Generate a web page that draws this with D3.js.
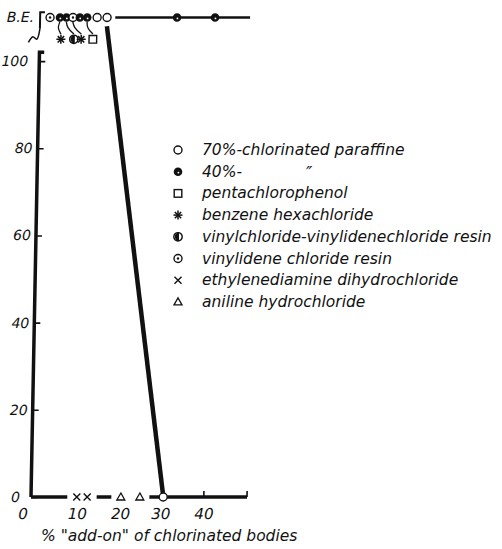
<!DOCTYPE html>
<html>
<head>
<meta charset="utf-8">
<script src="https://cdn.jsdelivr.net/npm/d3@7"></script>
<style>
  body { margin: 0; background: #fff; }
  text { font-family: "DejaVu Sans", sans-serif; font-style: italic; fill: #111; }
</style>
</head>
<body>
<svg id="chart" width="502" height="549"></svg>
<script>
// values; x = % add-on, y = B.E. (110 is the "B.E." row)
const BE = 110;
const xTickLabels = [0, 10, 20, 30, 40];
const xTickMarks = [40, 50];
const yTicks = [0, 20, 40, 60, 80, 100];

const legendNames = [
  '70%-chlorinated paraffine', '40%-', 'pentachlorophenol', 'benzene hexachloride',
  'vinylchloride-vinylidenechloride resin', 'vinylidene chloride resin',
  'ethylenediamine dihydrochloride', 'aniline hydrochloride'
];
const legendMarks = ['open', 'speck', 'square', 'star', 'half', 'dotted', 'cross', 'tri'];

// points sitting on the B.E. row, left to right
const beRowX = [2.3, 4.6, 6.1, 7.6, 9.2, 10.9, 13.2, 15.5, 31.7, 40.5];
const beRowMark = ['dotted', 'speck', 'speck', 'dotted', 'speck', 'speck', 'open', 'open', 'speck', 'speck'];
// symbols hung under the crowded B.E. points
const hangX = [4.9, 7.9, 9.6, 12.3];
const hangFrom = [4.6, 6.1, 7.6, 10.9];
const hangMark = ['star', 'half', 'star', 'square'];
const hangY = 105;

// 40%-paraffin stays at B.E. along this span
const paraffin40Span = [17.4, 48.6];
// 70%-paraffin falls from B.E. to zero
const paraffin70Line = [[15.5, 108], [30.5, 0.9]];

// points on the zero line
const zeroX = [10.6, 13.0, 20.8, 25.2, 30.6];
const zeroMark = ['cross', 'cross', 'tri', 'tri', 'open'];

const svg = d3.select('#chart');
const x = d3.scaleLinear().domain([0, 50]).range([31, 247]);
const y = d3.scaleLinear().domain([0, BE]).range([497, 17.5]);

// the scan leans a little, so the plot is sheared about the baseline
const plot = svg.append('g')
  .attr('transform', `translate(0,${y(0)}) skewX(-1.09) translate(0,${-y(0)})`);

function mark(g, kind, cx, cy) {
  const s = g.append('g').attr('transform', `translate(${cx},${cy})`);
  const ink = '#111';
  if (kind === 'open') {
    s.append('circle').attr('r', 4).attr('fill', '#fff').attr('stroke', ink).attr('stroke-width', 1.4);
  } else if (kind === 'speck') {
    s.append('circle').attr('r', 4.3).attr('fill', ink);
    s.append('circle').attr('r', 0.9).attr('cx', 0.4).attr('cy', 0.9).attr('fill', '#fff');
  } else if (kind === 'square') {
    s.append('rect').attr('x', -3.8).attr('y', -3.8).attr('width', 7.6).attr('height', 7.6)
      .attr('fill', '#fff').attr('stroke', ink).attr('stroke-width', 1.4);
  } else if (kind === 'star') {
    [0, 45, 90, 135].forEach(a => {
      const r = a * Math.PI / 180;
      s.append('line').attr('x1', -4.5 * Math.cos(r)).attr('y1', -4.5 * Math.sin(r))
        .attr('x2', 4.5 * Math.cos(r)).attr('y2', 4.5 * Math.sin(r))
        .attr('stroke', ink).attr('stroke-width', 1.5);
    });
  } else if (kind === 'half') {
    s.append('circle').attr('r', 4.2).attr('fill', '#fff').attr('stroke', ink).attr('stroke-width', 1.4);
    s.append('path').attr('d', 'M1,-4.2A4.2,4.2 0 1,0 1,4.2Z').attr('fill', ink);
  } else if (kind === 'dotted') {
    s.append('circle').attr('r', 4).attr('fill', '#fff').attr('stroke', ink).attr('stroke-width', 1.4);
    s.append('circle').attr('r', 1.2).attr('fill', ink);
  } else if (kind === 'cross') {
    s.append('path').attr('d', 'M-3.5,-3.5L3.5,3.5M-3.5,3.5L3.5,-3.5')
      .attr('stroke', ink).attr('stroke-width', 1.4).attr('fill', 'none');
  } else if (kind === 'tri') {
    s.append('path').attr('d', 'M0,-4L4,3L-4,3Z')
      .attr('stroke', ink).attr('stroke-width', 1.3).attr('fill', '#fff');
  }
}

const line = d3.line().x(d => x(d[0])).y(d => y(d[1]));

// y axis with the "F" top and the break up to the B.E. row
plot.append('path').attr('d', line([[0, 0], [0, 102], [1.1, 102]]))
  .attr('fill', 'none').attr('stroke', '#111').attr('stroke-width', 3.5);
const yAxis = plot.append('g').attr('transform', `translate(${x(0)},0)`)
  .call(d3.axisLeft(y).tickValues(yTicks).tickSizeInner(-6).tickSizeOuter(0).tickPadding(5));
yAxis.select('.domain').remove();
yAxis.selectAll('line').attr('stroke', '#111').attr('stroke-width', 1.6);
yAxis.selectAll('text').attr('font-size', 14).attr('font-family', null)
  .attr('dx', d => (d === 0 || d === 100) ? -6 : 0);

plot.append('path').attr('d', line([[1.1, 111.2], [0, 111.2], [0, 107.4]]))
  .attr('fill', 'none').attr('stroke', '#111').attr('stroke-width', 2);
plot.append('path')
  .attr('d', d3.line().curve(d3.curveCatmullRom).x(d => x(d[0])).y(d => y(d[1]))(
    [[-2.6, 104.3], [-1.6, 105.6], [-0.7, 105.0], [0, 107.4]]))
  .attr('fill', 'none').attr('stroke', '#111').attr('stroke-width', 1.5);
plot.append('text').attr('x', x(0) - 6).attr('y', y(BE) + 5)
  .attr('text-anchor', 'end').attr('font-size', 14).text('B.E.');

// zero line, broken around the markers that sit on it
const gaps = zeroX.map((v, i) => {
  const h = zeroMark[i] === 'open' ? 0.9 : 2.2;
  return [v - h, v + h];
}).sort((a, b) => a[0] - b[0]);
let start = 0;
const segs = [];
gaps.forEach(g => {
  if (g[0] > start) segs.push([start, g[0]]);
  start = Math.max(start, g[1]);
});
segs.push([start, 50]);
segs.forEach(s => {
  plot.append('path').attr('d', line([[s[0], 0], [s[1], 0]]))
    .attr('stroke', '#111').attr('stroke-width', 3.5);
});

const xAxis = plot.append('g').attr('transform', `translate(0,${y(0)})`)
  .call(d3.axisBottom(x).tickValues(xTickLabels).tickSize(0).tickPadding(11));
xAxis.select('.domain').remove();
xAxis.selectAll('text').attr('font-size', 15).attr('font-family', null)
  .attr('dx', d => d === 0 ? -8 : (d === 10 || d === 20) ? 3 : 0);
plot.selectAll('.xtick').data(xTickMarks).join('line')
  .attr('x1', d => x(d)).attr('x2', d => x(d))
  .attr('y1', y(0)).attr('y2', y(0) - 6)
  .attr('stroke', '#111').attr('stroke-width', 1.6);

// 40% paraffin along the B.E. row
plot.append('path').attr('d', line(paraffin40Span.map(v => [v, BE])))
  .attr('stroke', '#111').attr('stroke-width', 2.6);

// 70% paraffin drop
plot.append('path').attr('d', line(paraffin70Line))
  .attr('stroke', '#111').attr('stroke-width', 4.5);

// leader lines from the crowded B.E. points to their symbols
hangX.forEach((hx, i) => {
  const f = hangFrom[i];
  plot.append('path')
    .attr('d', d3.line().curve(d3.curveBasis).x(d => x(d[0])).y(d => y(d[1]))(
      [[f, BE - 1], [(f + hx) / 2 - 0.7, 107.6], [hx, 106.2]]))
    .attr('fill', 'none').attr('stroke', '#111').attr('stroke-width', 1.3);
});

beRowX.forEach((v, i) => mark(plot, beRowMark[i], x(v), y(BE)));
hangX.forEach((v, i) => mark(plot, hangMark[i], x(v), y(hangY)));
zeroX.forEach((v, i) => mark(plot, zeroMark[i], x(v), y(0)));

// legend
const legend = svg.append('g');
legendNames.forEach((name, i) => {
  const ry = 150 + i * 21.7;
  mark(legend, legendMarks[i], 178, ry);
  legend.append('text').attr('x', 202).attr('y', ry + 5).attr('font-size', 15.5).text(name);
});
legend.append('text').attr('x', 306).attr('y', 150 + 21.7 + 7).attr('font-size', 17).text('″');

svg.append('text').attr('x', 41).attr('y', 541).attr('font-size', 15.5)
  .text('% "add-on" of chlorinated bodies');
</script>
</body>
</html>
